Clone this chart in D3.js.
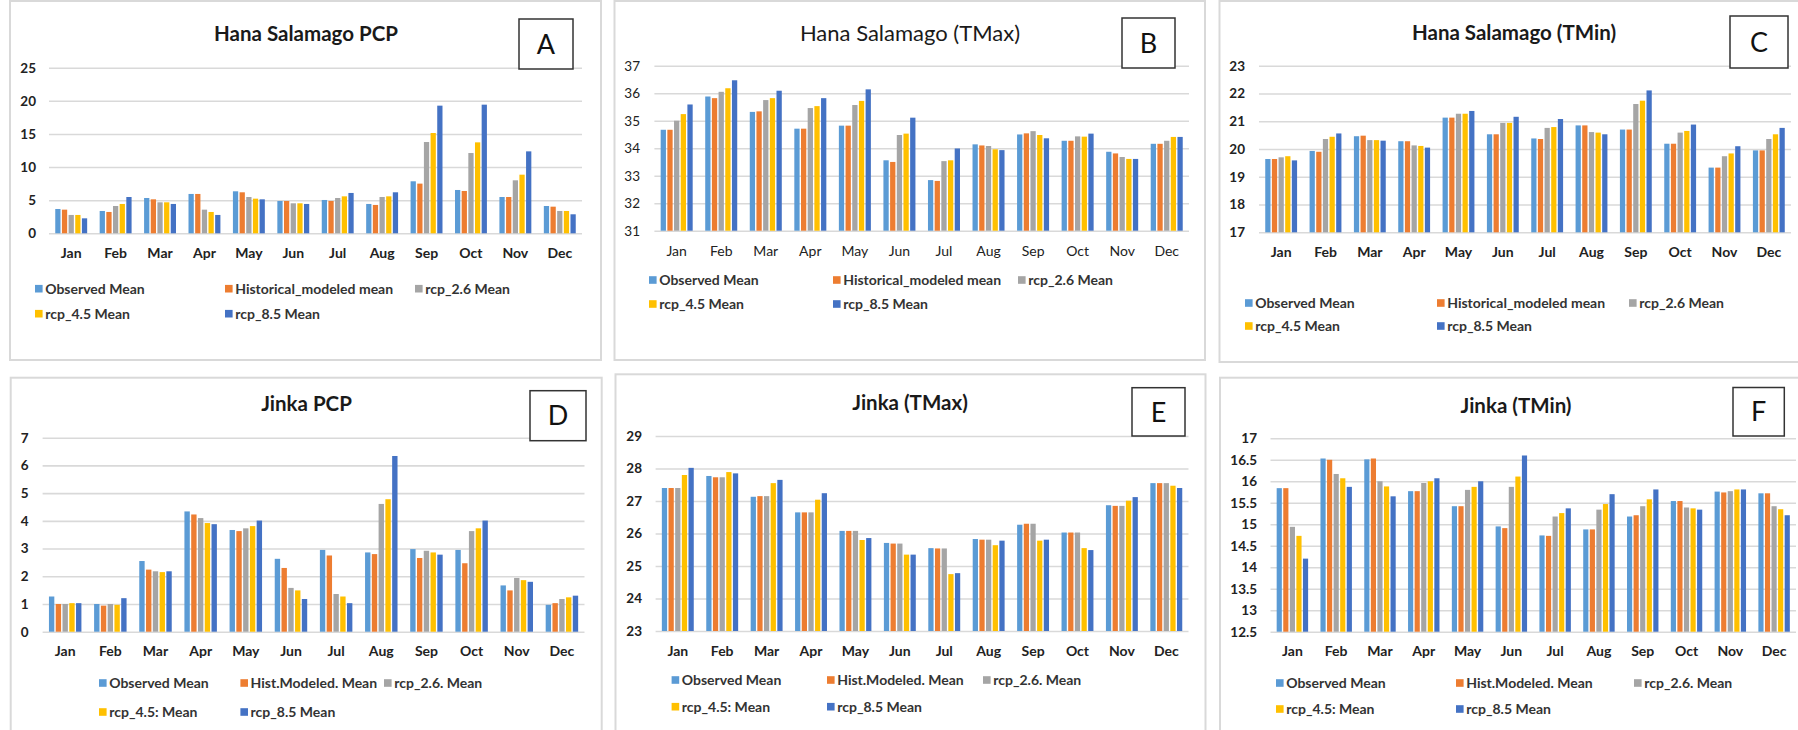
<!DOCTYPE html>
<html>
<head>
<meta charset="utf-8">
<script src="https://cdn.jsdelivr.net/npm/d3@7"></script>
<style>
  html, body { margin: 0; padding: 0; background: #ffffff; }
  svg { display: block; font-family: Lato, "Open Sans", "Liberation Sans", sans-serif; }
</style>
</head>
<body>
<svg id="chart" width="1798" height="730"></svg>
<script>
// ---- categories, series names, colours ----
const months = ["Jan", "Feb", "Mar", "Apr", "May", "Jun", "Jul", "Aug", "Sep", "Oct", "Nov", "Dec"];
const legendHana = ["Observed Mean", "Historical_modeled mean", "rcp_2.6 Mean", "rcp_4.5 Mean", "rcp_8.5 Mean"];
const legendJinka = ["Observed Mean", "Hist.Modeled. Mean", "rcp_2.6. Mean", "rcp_4.5: Mean", "rcp_8.5 Mean"];
const seriesColors = ["#5B9BD5", "#ED7D31", "#A5A5A5", "#FFC000", "#4472C4"];

// ---- Hana Salamago precipitation (mm/day) ----
const hanaPcpObserved = [3.67, 3.37, 5.33, 5.94, 6.34, 4.88, 5.03, 4.43, 7.85, 6.54, 5.48, 4.12];
const hanaPcpHist     = [3.57, 3.22, 5.13, 5.94, 6.19, 4.88, 4.88, 4.28, 7.50, 6.39, 5.48, 4.02];
const hanaPcpRcp26    = [2.77, 4.12, 4.68, 3.57, 5.48, 4.53, 5.33, 5.48, 13.78, 12.12, 8.00, 3.37];
const hanaPcpRcp45    = [2.77, 4.43, 4.68, 3.22, 5.23, 4.53, 5.58, 5.58, 15.14, 13.73, 8.85, 3.37];
const hanaPcpRcp85    = [2.26, 5.48, 4.43, 2.77, 5.13, 4.43, 6.09, 6.19, 19.27, 19.42, 12.37, 2.87];

// ---- Hana Salamago maximum temperature ----
const hanaTmaxObserved = [34.67, 35.88, 35.32, 34.71, 34.82, 33.56, 32.84, 34.14, 34.50, 34.27, 33.87, 34.16];
const hanaTmaxHist     = [34.67, 35.82, 35.34, 34.71, 34.82, 33.50, 32.81, 34.10, 34.54, 34.27, 33.81, 34.16];
const hanaTmaxRcp26    = [35.00, 36.05, 35.75, 35.46, 35.57, 34.48, 33.53, 34.08, 34.62, 34.43, 33.68, 34.27];
const hanaTmaxRcp45    = [35.24, 36.18, 35.82, 35.53, 35.72, 34.53, 33.56, 33.96, 34.48, 34.42, 33.61, 34.41];
const hanaTmaxRcp85    = [35.59, 36.47, 36.09, 35.82, 36.14, 35.11, 33.99, 33.93, 34.36, 34.53, 33.61, 34.41];

// ---- Hana Salamago minimum temperature ----
const hanaTminObserved = [19.64, 19.93, 20.46, 20.28, 21.13, 20.53, 20.38, 20.85, 20.70, 20.19, 19.33, 19.95];
const hanaTminHist     = [19.64, 19.90, 20.48, 20.28, 21.13, 20.53, 20.36, 20.85, 20.70, 20.19, 19.33, 19.95];
const hanaTminRcp26    = [19.70, 20.36, 20.32, 20.13, 21.27, 20.94, 20.76, 20.61, 21.62, 20.59, 19.74, 20.36];
const hanaTminRcp45    = [19.74, 20.44, 20.32, 20.11, 21.27, 20.94, 20.79, 20.59, 21.74, 20.65, 19.84, 20.53];
const hanaTminRcp85    = [19.59, 20.56, 20.30, 20.05, 21.37, 21.16, 21.08, 20.53, 22.11, 20.88, 20.10, 20.76];

// ---- Jinka precipitation ----
const jinkaPcpObserved = [1.27, 1.00, 2.55, 4.34, 3.67, 2.63, 2.95, 2.86, 2.98, 2.95, 1.67, 0.97];
const jinkaPcpHist     = [1.00, 0.94, 2.24, 4.23, 3.63, 2.30, 2.75, 2.80, 2.66, 2.47, 1.49, 1.03];
const jinkaPcpRcp26    = [1.00, 1.00, 2.18, 4.10, 3.73, 1.58, 1.36, 4.61, 2.92, 3.63, 1.94, 1.18];
const jinkaPcpRcp45    = [1.03, 0.97, 2.15, 3.92, 3.81, 1.49, 1.27, 4.78, 2.86, 3.73, 1.86, 1.24];
const jinkaPcpRcp85    = [1.03, 1.21, 2.18, 3.88, 4.01, 1.18, 1.03, 6.34, 2.78, 4.01, 1.80, 1.30];

// ---- Jinka maximum temperature ----
const jinkaTmaxObserved = [27.40, 27.77, 27.13, 26.65, 26.08, 25.71, 25.55, 25.83, 26.27, 26.03, 26.87, 27.55];
const jinkaTmaxHist     = [27.40, 27.73, 27.15, 26.65, 26.08, 25.69, 25.54, 25.81, 26.30, 26.03, 26.85, 27.55];
const jinkaTmaxRcp26    = [27.40, 27.73, 27.15, 26.65, 26.08, 25.69, 25.54, 25.81, 26.30, 26.03, 26.85, 27.55];
const jinkaTmaxRcp45    = [27.80, 27.89, 27.55, 27.04, 25.80, 25.35, 24.75, 25.64, 25.78, 25.55, 27.01, 27.47];
const jinkaTmaxRcp85    = [28.02, 27.85, 27.65, 27.24, 25.86, 25.35, 24.78, 25.78, 25.81, 25.49, 27.12, 27.40];

// ---- Jinka minimum temperature ----
const jinkaTminObserved = [15.84, 16.53, 16.51, 15.77, 15.42, 14.95, 14.74, 14.88, 15.18, 15.54, 15.76, 15.72];
const jinkaTminHist     = [15.84, 16.50, 16.53, 15.77, 15.42, 14.91, 14.73, 14.88, 15.21, 15.54, 15.74, 15.72];
const jinkaTminRcp26    = [14.94, 16.17, 16.00, 15.96, 15.80, 15.87, 15.18, 15.34, 15.42, 15.39, 15.77, 15.42];
const jinkaTminRcp45    = [14.73, 16.07, 15.88, 16.00, 15.87, 16.11, 15.26, 15.47, 15.58, 15.37, 15.81, 15.35];
const jinkaTminRcp85    = [14.20, 15.87, 15.65, 16.07, 16.00, 16.60, 15.37, 15.70, 15.81, 15.34, 15.81, 15.21];

// ---- y-axis tick labels ----
const ticksHanaPcp  = [0, 5, 10, 15, 20, 25];
const ticksHanaTmax = [31, 32, 33, 34, 35, 36, 37];
const ticksHanaTmin = [17, 18, 19, 20, 21, 22, 23];
const ticksJinkaPcp = [0, 1, 2, 3, 4, 5, 6, 7];
const ticksJinkaTmax = [23, 24, 25, 26, 27, 28, 29];
const ticksJinkaTmin = [12.5, 13, 13.5, 14, 14.5, 15, 15.5, 16, 16.5, 17];

// ---- panel layout ----
const panels = [
  { title: "Hana Salamago PCP", letter: "A", boldAxis: true, boldTitle: true,
    series: [hanaPcpObserved, hanaPcpHist, hanaPcpRcp26, hanaPcpRcp45, hanaPcpRcp85],
    names: legendHana, ticks: ticksHanaPcp,
    frame: [10, 1, 591, 359], titlePos: [306, 34], box: [519, 19, 54, 50],
    plot: { x0: 49, x1: 582, yTop: 67.7, yBot: 233.3 }, labelRight: 36, monthY: 253,
    legendRows: [288.7, 313.7], legendCols: [35, 225, 415] },
  { title: "Hana Salamago (TMax)", letter: "B", boldAxis: false, boldTitle: false,
    series: [hanaTmaxObserved, hanaTmaxHist, hanaTmaxRcp26, hanaTmaxRcp45, hanaTmaxRcp85],
    names: legendHana, ticks: ticksHanaTmax,
    frame: [614.5, 1, 590.5, 359], titlePos: [910, 33], box: [1122, 18, 53, 50],
    plot: { x0: 654.4, x1: 1189, yTop: 65.7, yBot: 230.7 }, labelRight: 640, monthY: 251,
    legendRows: [280, 304], legendCols: [649, 833, 1018] },
  { title: "Hana Salamago (TMin)", letter: "C", boldAxis: true, boldTitle: true,
    series: [hanaTminObserved, hanaTminHist, hanaTminRcp26, hanaTminRcp45, hanaTminRcp85],
    names: legendHana, ticks: ticksHanaTmin,
    frame: [1219.5, 1, 600, 361], titlePos: [1514, 33], box: [1730, 16, 58, 52],
    plot: { x0: 1259, x1: 1791, yTop: 65.7, yBot: 232.3 }, labelRight: 1245, monthY: 252,
    legendRows: [303, 326], legendCols: [1245, 1437, 1629] },
  { title: "Jinka PCP", letter: "D", boldAxis: true, boldTitle: true,
    series: [jinkaPcpObserved, jinkaPcpHist, jinkaPcpRcp26, jinkaPcpRcp45, jinkaPcpRcp85],
    names: legendJinka, ticks: ticksJinkaPcp,
    frame: [10.7, 377.7, 591, 380], titlePos: [306.5, 404], box: [530, 390.7, 56, 50],
    plot: { x0: 42.6, x1: 584.5, yTop: 437.7, yBot: 631.7 }, labelRight: 28.5, monthY: 651,
    legendRows: [683, 712], legendCols: [99, 240.4, 384] },
  { title: "Jinka (TMax)", letter: "E", boldAxis: true, boldTitle: true,
    series: [jinkaTmaxObserved, jinkaTmaxHist, jinkaTmaxRcp26, jinkaTmaxRcp45, jinkaTmaxRcp85],
    names: legendJinka, ticks: ticksJinkaTmax,
    frame: [615.5, 374.3, 590, 380], titlePos: [910, 402.7], box: [1132, 387.7, 53, 48.3],
    plot: { x0: 655.6, x1: 1188.5, yTop: 436, yBot: 631 }, labelRight: 642, monthY: 650.7,
    legendRows: [680, 706.7], legendCols: [671.6, 827, 983] },
  { title: "Jinka (TMin)", letter: "F", boldAxis: true, boldTitle: true,
    series: [jinkaTminObserved, jinkaTminHist, jinkaTminRcp26, jinkaTminRcp45, jinkaTminRcp85],
    names: legendJinka, ticks: ticksJinkaTmin,
    frame: [1220, 377.7, 600, 380], titlePos: [1516, 406], box: [1733, 387.5, 51.3, 48.5],
    plot: { x0: 1270.5, x1: 1796, yTop: 438.3, yBot: 631.7 }, labelRight: 1257, monthY: 651,
    legendRows: [683, 709], legendCols: [1276, 1456, 1634] }
];

const svg = d3.select("#chart");
const gridColor = "#d9d9d9";
const textColor = "#222222";

function drawPanel(p) {
  const g = svg.append("g");

  // chart-area frame
  g.append("rect")
    .attr("x", p.frame[0]).attr("y", p.frame[1])
    .attr("width", p.frame[2]).attr("height", p.frame[3])
    .attr("fill", "#ffffff").attr("stroke", gridColor).attr("stroke-width", 2);

  const x = d3.scaleBand().domain(months)
    .range([p.plot.x0, p.plot.x1]).paddingInner(0.25).paddingOuter(0.125);
  const xs = d3.scaleBand().domain(d3.range(p.series.length)).range([0, x.bandwidth()]);
  const domain = [p.ticks[0], p.ticks[p.ticks.length - 1]];
  const y = d3.scaleLinear().domain(domain).range([p.plot.yBot, p.plot.yTop]);

  const weight = p.boldAxis ? "bold" : "normal";

  // value axis with gridlines
  const yAxis = d3.axisLeft(y).tickValues(p.ticks)
    .tickSize(-(p.plot.x1 - p.plot.x0))
    .tickPadding(p.plot.x0 - p.labelRight)
    .tickFormat(d => String(d));
  const ya = g.append("g").attr("transform", `translate(${p.plot.x0},0)`).call(yAxis);
  ya.select(".domain").remove();
  ya.selectAll(".tick line").attr("stroke", gridColor).attr("stroke-width", 1.6);
  ya.selectAll(".tick text")
    .attr("fill", textColor).attr("font-size", 13.5).attr("font-weight", weight)
    .attr("font-family", "Lato, 'Open Sans', sans-serif");

  // bars
  p.series.forEach((vals, si) => {
    g.append("g").selectAll("rect")
      .data(vals.map((v, i) => ({ m: months[i], v })))
      .join("rect")
      .attr("x", d => x(d.m) + xs(si) + 0.7)
      .attr("width", xs.bandwidth() - 1.4)
      .attr("y", d => y(d.v))
      .attr("height", d => y(domain[0]) - y(d.v))
      .attr("fill", seriesColors[si]);
  });

  // category axis
  const xAxis = d3.axisBottom(x).tickSize(0);
  const xa = g.append("g").attr("transform", `translate(0,${p.plot.yBot})`).call(xAxis);
  xa.select(".domain").remove();
  xa.selectAll(".tick text")
    .attr("y", p.monthY - p.plot.yBot).attr("dy", "0.35em")
    .attr("fill", textColor).attr("font-size", 14).attr("font-weight", weight)
    .attr("font-family", "Lato, 'Open Sans', sans-serif");

  // title
  g.append("text")
    .attr("x", p.titlePos[0]).attr("y", p.titlePos[1]).attr("dy", "0.35em")
    .attr("text-anchor", "middle")
    .attr("font-size", p.boldTitle ? 20.5 : 22)
    .attr("font-weight", p.boldTitle ? "bold" : "normal")
    .attr("fill", "#1a1a1a")
    .text(p.title);

  // panel letter box
  g.append("rect")
    .attr("x", p.box[0]).attr("y", p.box[1]).attr("width", p.box[2]).attr("height", p.box[3])
    .attr("fill", "#ffffff").attr("stroke", "#333333").attr("stroke-width", 1.5);
  g.append("text")
    .attr("x", p.box[0] + p.box[2] / 2).attr("y", p.box[1] + p.box[3] / 2).attr("dy", "0.36em")
    .attr("text-anchor", "middle").attr("font-size", 27).attr("fill", "#111111")
    .text(p.letter);

  // legend
  const slots = [[0, 0], [0, 1], [0, 2], [1, 0], [1, 1]];
  p.names.forEach((name, i) => {
    const [r, c] = slots[i];
    const lx = p.legendCols[c], ly = p.legendRows[r];
    g.append("rect").attr("x", lx).attr("y", ly - 3.8).attr("width", 7.6).attr("height", 7.6)
      .attr("fill", seriesColors[i]);
    g.append("text").attr("x", lx + 10.2).attr("y", ly).attr("dy", "0.35em")
      .attr("font-size", 14).attr("font-weight", "bold").attr("fill", "#333333")
      .text(name);
  });
}

panels.forEach(drawPanel);
</script>
</body>
</html>
